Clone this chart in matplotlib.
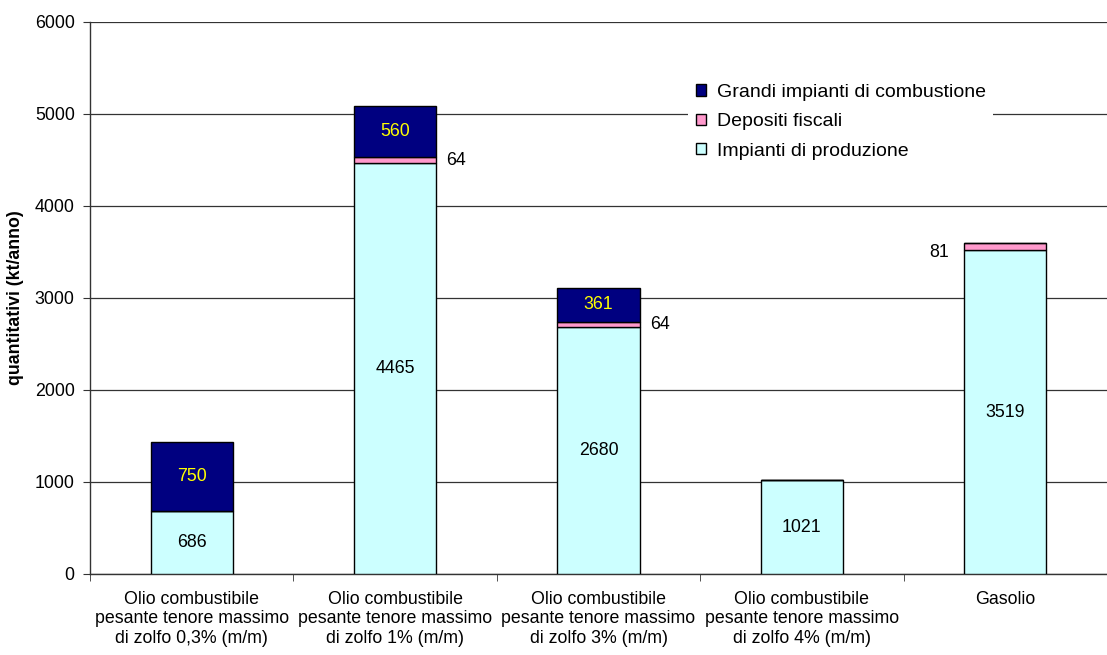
import matplotlib
matplotlib.use("Agg")
import matplotlib.pyplot as plt
from matplotlib.patches import Patch
import numpy as np

plt.rcParams['font.family'] = ['Liberation Sans', 'DejaVu Sans']

categories = [
    "Olio combustibile\npesante tenore massimo\ndi zolfo 0,3% (m/m)",
    "Olio combustibile\npesante tenore massimo\ndi zolfo 1% (m/m)",
    "Olio combustibile\npesante tenore massimo\ndi zolfo 3% (m/m)",
    "Olio combustibile\npesante tenore massimo\ndi zolfo 4% (m/m)",
    "Gasolio",
]
impianti = [686, 4465, 2680, 1021, 3519]
depositi = [0, 64, 64, 0, 81]
grandi = [750, 560, 361, 0, 0]
series_names = ["Impianti di produzione", "Depositi fiscali", "Grandi impianti di combustione"]
colors = ["#CCFFFF", "#FF99CC", "#000080"]

fig = plt.figure(figsize=(11.07, 6.55), dpi=100)
ax = fig.add_axes([90/1107, 1 - 574/655, 1 - 90/1107, (574 - 22)/655])

x = np.arange(len(categories))
w = 0.405
imp = np.array(impianti)
dep = np.array(depositi)
gr = np.array(grandi)

ax.bar(x, imp, w, color=colors[0], edgecolor="black", linewidth=1.0, zorder=3)
ax.bar(x, dep, w, bottom=imp, color=colors[1], edgecolor="black", linewidth=1.0, zorder=3)
ax.bar(x, gr, w, bottom=imp + dep, color=colors[2], edgecolor="black", linewidth=1.0, zorder=3)

fs = 12.8
for i in range(len(categories)):
    ax.text(x[i], imp[i] / 2, str(imp[i]), ha="center", va="center", fontsize=fs, color="black", zorder=5)
    if gr[i] > 0:
        ax.text(x[i], imp[i] + dep[i] + gr[i] / 2, str(gr[i]), ha="center", va="center",
                fontsize=fs, color="#FFFF00", zorder=5)
    if dep[i] > 0:
        if i == 4:
            ax.text(x[i] - w / 2 - 0.073, imp[i] + dep[i] / 2 - 70, str(dep[i]), ha="right", va="center",
                    fontsize=fs, color="black", zorder=5)
        else:
            ax.text(x[i] + w / 2 + 0.05, imp[i] + dep[i] / 2, str(dep[i]), ha="left", va="center",
                    fontsize=fs, color="black", zorder=5)

ax.set_xlim(-0.5, -0.5 + (1107 - 90) / 205.4)
ax.set_ylim(0, 6000)
ax.set_yticks(np.arange(0, 6001, 1000))
ax.yaxis.grid(True, color="#333333", linewidth=0.9, zorder=0)
ax.set_axisbelow(True)
ax.set_xticks(x)
ax.set_xticklabels(categories, fontsize=fs, linespacing=1.2)
ax.set_xticks(np.arange(-0.5, 5.0, 1.0), minor=True)
ax.tick_params(axis="x", which="major", length=0, pad=12)
ax.tick_params(axis="x", which="minor", length=5, direction="out", color="#333333")
ax.tick_params(axis="y", labelsize=fs, length=5, direction="out", color="#333333", pad=6)
for s in ["top", "right"]:
    ax.spines[s].set_visible(False)
for s in ["left", "bottom"]:
    ax.spines[s].set_color("#333333")
    ax.spines[s].set_linewidth(1.0)

ax.set_ylabel("quantitativi (kt/anno)", fontsize=fs, fontweight="bold", labelpad=8)

lfs = 14
handles = [Patch(facecolor=colors[2], edgecolor="black", label=series_names[2]),
           Patch(facecolor=colors[1], edgecolor="black", label=series_names[1]),
           Patch(facecolor=colors[0], edgecolor="black", label=series_names[0])]
leg = ax.legend(handles=handles, loc="upper left", bbox_to_anchor=((688 - 90) / 1017, 1 - (76 - 22) / 552),
                frameon=True, fancybox=False, edgecolor="none", facecolor="white", framealpha=1,
                fontsize=lfs, handlelength=0.52, handleheight=0.52, handletextpad=0.55,
                labelspacing=0.64, borderpad=0.4, borderaxespad=0)
leg.set_zorder(10)

fig.savefig("out.png", dpi=100)
